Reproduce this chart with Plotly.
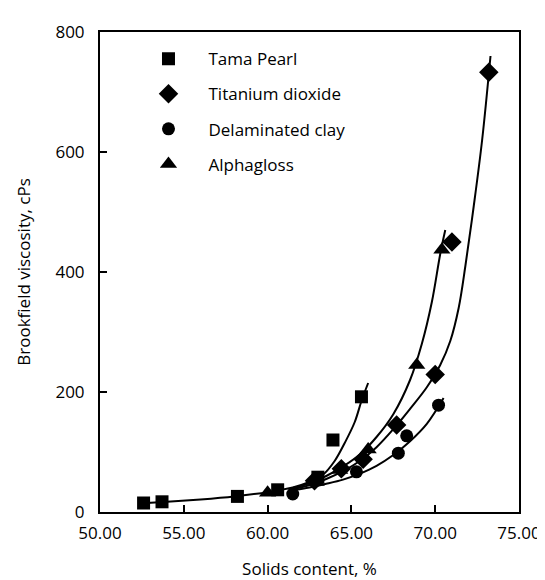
import plotly.graph_objects as go

# ---- data ----
series_names = ["Tama Pearl", "Titanium dioxide", "Delaminated clay", "Alphagloss"]

tama_x = [52.6, 53.7, 58.2, 60.6, 63.0, 63.9, 65.6]
tama_y = [15, 17, 26, 37, 58, 120, 192]

tio2_x = [62.8, 64.4, 65.7, 67.7, 70.0, 71.0, 73.2]
tio2_y = [52, 72, 88, 145, 229, 450, 733]

clay_x = [61.5, 65.3, 67.8, 68.3, 70.2]
clay_y = [30, 67, 98, 127, 178]

alpha_x = [60.0, 62.9, 64.3, 66.0, 68.9, 70.4]
alpha_y = [32, 50, 70, 104, 245, 437]

# fitted curves as traced on the reference
tama_cx = [52.3, 54.0, 56.0, 58.0, 60.0, 61.5, 62.5, 63.3, 64.0, 64.6, 65.2, 65.6, 66.0]
tama_cy = [14, 17, 21, 26, 33, 41, 50, 62, 85, 115, 150, 185, 215]

alpha_cx = [61.5, 62.5, 63.5, 64.5, 65.5, 66.5, 67.5, 68.5, 69.2, 69.8, 70.3, 70.6]
alpha_cy = [40, 48, 60, 76, 96, 125, 163, 220, 280, 350, 430, 470]

tio2_cx = [61.5, 62.5, 63.5, 64.5, 65.5, 66.5, 67.5, 68.5, 69.5, 70.3, 70.9, 71.4, 71.8, 72.3, 72.8, 73.3]
tio2_cy = [38, 45, 55, 68, 85, 108, 138, 172, 208, 245, 285, 340, 410, 510, 620, 760]

clay_cx = [61.5, 62.5, 63.5, 64.5, 65.5, 66.5, 67.5, 68.5, 69.5, 70.5]
clay_cy = [36, 41, 47, 54, 64, 77, 95, 118, 147, 190]

x_ticks = [50, 55, 60, 65, 70, 75]
x_ticklabels = ["50.00", "55.00", "60.00", "65.00", "70.00", "75.00"]
y_ticks = [0, 200, 400, 600, 800]

FONT = "Open Sans"

fig = go.Figure()

curves = [(tama_cx, tama_cy), (tio2_cx, tio2_cy), (clay_cx, clay_cy), (alpha_cx, alpha_cy)]
for cx, cy in curves:
    fig.add_trace(go.Scatter(x=cx, y=cy, mode="lines", line=dict(color="black", width=2, shape="spline", smoothing=1.0),
                             showlegend=False, hoverinfo="skip"))

pts = [
    (tama_x, tama_y, "square", 13),
    (tio2_x, tio2_y, "diamond", 15),
    (clay_x, clay_y, "circle", 13),
    (alpha_x, alpha_y, "triangle-up", 15),
]
for i, (px, py, sym, sz) in enumerate(pts):
    fig.add_trace(go.Scatter(x=px, y=py, mode="markers", name=series_names[i], legendgroup=f"g{i}",
                             marker=dict(symbol=sym, size=sz, color="black", line=dict(width=0))))

fig.update_layout(
    width=545, height=580,
    margin=dict(l=92, r=29, t=15, b=74),
    paper_bgcolor="white", plot_bgcolor="white",
    font=dict(family=FONT, size=17, color="black"),
    showlegend=True,
    legend=dict(x=0.068, y=0.981, xanchor="left", yanchor="top", bgcolor="rgba(0,0,0,0)",
                font=dict(family=FONT, size=17, color="black"), tracegroupgap=10, itemwidth=70),
    xaxis=dict(range=[50, 75], tickvals=x_ticks, ticktext=x_ticklabels, ticks="inside", ticklen=7,
               tickwidth=1.5, tickcolor="black", showline=True, linecolor="black", linewidth=2, mirror=True,
               showgrid=False, zeroline=False, tickfont=dict(size=17), ticklabelstandoff=5,
               title=dict(text="Solids content, %", font=dict(size=17), standoff=20)),
    yaxis=dict(range=[0, 800], tickvals=y_ticks, ticks="inside", ticklen=7, tickwidth=1.5, tickcolor="black",
               showline=True, linecolor="black", linewidth=2, mirror=True, showgrid=False, zeroline=False,
               tickfont=dict(size=17), ticklabelstandoff=10,
               title=dict(text="Brookfield viscosity, cPs", font=dict(size=17), standoff=20)),
)

fig.write_html("out.html")
